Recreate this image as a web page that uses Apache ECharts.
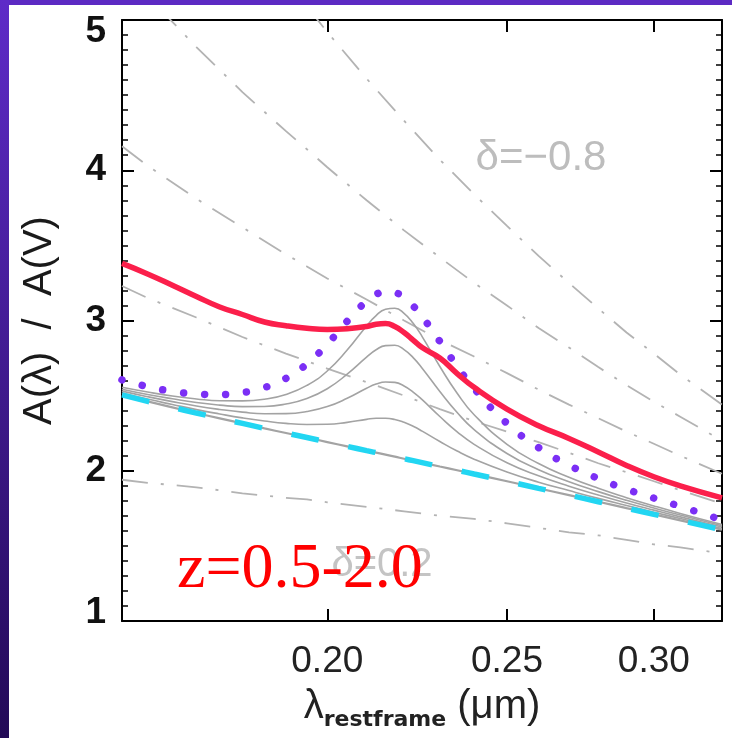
<!DOCTYPE html>
<html>
<head>
<meta charset="utf-8">
<script src="https://cdn.jsdelivr.net/npm/echarts@6/dist/echarts.min.js"></script>
<style>
html,body{margin:0;padding:0;background:#fff;}
#c{width:732px;height:738px;}
</style>
</head>
<body>
<div id="c"></div>
<script>
// wavelength grid (micron) for the curves
const lam = [0.155,0.16,0.165,0.17,0.175,0.18,0.185,0.19,0.195,0.2,0.205,0.21,0.2125,0.215,0.2175,0.22,0.2225,0.225,0.23,0.235,0.24,0.25,0.26,0.27,0.28,0.29,0.30,0.31,0.3265];
// delta = 0 base law (gray, overlaid by cyan dashes)
const base = [2.505,2.462,2.422,2.384,2.349,2.315,2.282,2.251,2.221,2.191,2.162,2.134,2.121,2.107,2.094,2.080,2.067,2.054,2.028,2.003,1.978,1.930,1.883,1.838,1.794,1.751,1.710,1.670,1.607];
// gray bump curves
const bump1 = [2.518,2.477,2.441,2.407,2.378,2.352,2.331,2.315,2.308,2.309,2.322,2.342,2.349,2.349,2.341,2.322,2.296,2.264,2.195,2.131,2.077,1.992,1.924,1.868,1.816,1.769,1.724,1.682,1.616];
const bump2 = [2.530,2.493,2.460,2.431,2.408,2.390,2.379,2.380,2.394,2.427,2.482,2.549,2.577,2.591,2.588,2.564,2.524,2.473,2.361,2.259,2.176,2.053,1.966,1.897,1.839,1.786,1.738,1.693,1.625];
const bump3 = [2.543,2.508,2.479,2.454,2.437,2.427,2.428,2.444,2.481,2.546,2.643,2.756,2.805,2.833,2.835,2.806,2.753,2.683,2.528,2.388,2.274,2.115,2.007,1.927,1.861,1.803,1.752,1.705,1.634];
const bump4 = [2.556,2.524,2.497,2.478,2.466,2.465,2.476,2.508,2.568,2.664,2.803,2.964,3.033,3.075,3.082,3.048,2.982,2.893,2.694,2.516,2.373,2.176,2.048,1.957,1.883,1.821,1.766,1.716,1.642];
// purple dotted curve
const mw = [2.605,2.560,2.529,2.511,2.507,2.520,2.554,2.615,2.711,2.843,2.995,3.130,3.174,3.193,3.186,3.152,3.097,3.026,2.861,2.695,2.547,2.315,2.154,2.037,1.948,1.877,1.818,1.763,1.672];
// red curve z=0.5-2.0
const red = [3.38,3.31,3.235,3.16,3.09,3.04,2.99,2.965,2.948,2.94,2.945,2.96,2.975,2.98,2.96,2.92,2.87,2.82,2.75,2.647,2.555,2.41,2.30,2.215,2.125,2.035,1.96,1.90,1.82];
// dash-dot lines with different slopes delta
const lamD = [0.155,0.16,0.17,0.18,0.19,0.195,0.2,0.21,0.22,0.23,0.24,0.25,0.26,0.27,0.28,0.29,0.30,0.31,0.3265];
const dm08 = [6.90,6.61,6.10,5.66,5.27,5.09,4.92,4.61,4.33,4.07,3.84,3.63,3.43,3.25,3.08,2.92,2.78,2.64,2.44];
const dm06 = [5.36,5.16,4.82,4.52,4.26,4.14,4.02,3.80,3.60,3.42,3.25,3.10,2.95,2.82,2.69,2.57,2.46,2.36,2.20];
const dm04 = [4.16,4.03,3.81,3.62,3.44,3.36,3.28,3.14,3.00,2.87,2.76,2.65,2.54,2.44,2.35,2.26,2.18,2.10,1.98];
const dm02 = [3.23,3.15,3.02,2.89,2.78,2.73,2.68,2.59,2.50,2.41,2.33,2.26,2.19,2.12,2.05,1.99,1.93,1.87,1.78];
const dp02 = [1.94,1.92,1.89,1.85,1.82,1.81,1.79,1.76,1.73,1.70,1.68,1.65,1.62,1.59,1.57,1.54,1.51,1.49,1.45];
// axis ticks
const xTicks = [0.20, 0.25, 0.30];
const xMin = 0.155, xMax = 0.3265;
const yMin = 1, yMax = 5;

function pairs(xs, ys){ return xs.map((x,i)=>[x, ys[i]]); }

const chart = echarts.init(document.getElementById('c'), null, {renderer:'canvas'});

const dashDot = {color:'#b3b3b3', width:1.8, type:[26,13,3,13]};
const grayLine = {color:'#a3a3a3', width:1.6};

function line(name, xs, ys, lineStyle, z, smooth){
  return {name, type:'line', data:pairs(xs,ys), showSymbol:false, symbol:'none',
    smooth: smooth===undefined ? true : smooth, lineStyle, z, silent:true, animation:false,
    xAxisIndex:0, yAxisIndex:0};
}

const tickLen = 12;
const option = {
  backgroundColor:'#ffffff',
  animation:false,
  grid:{left:122, top:20, width:600, height:601, show:false},
  xAxis:[{
    type:'log', logBase:10, min:xMin, max:xMax, position:'bottom',
    axisLine:{show:true, lineStyle:{color:'#000', width:2}},
    axisTick:{show:true, inside:true, length:tickLen, customValues:xTicks, lineStyle:{color:'#000', width:2}},
    minorTick:{show:false},
    splitLine:{show:false},
    axisLabel:{show:true, customValues:xTicks, formatter:(v)=>Number(v).toFixed(2), margin:22,
      fontFamily:'Liberation Sans', fontSize:37, color:'#222'},
    name:'{a|λ}{b|restframe}{a| (μm)}', nameLocation:'middle', nameGap:62,
    nameTextStyle:{rich:{
      a:{fontFamily:'Liberation Sans', fontSize:40, color:'#222'},
      b:{fontFamily:'DejaVu Sans', fontSize:22, fontWeight:'bold', color:'#222', padding:[26,0,0,0]}
    }}
  },{
    type:'log', logBase:10, min:xMin, max:xMax, position:'top',
    axisLine:{show:true, lineStyle:{color:'#000', width:2}},
    axisTick:{show:true, inside:true, length:tickLen, customValues:xTicks, lineStyle:{color:'#000', width:2}},
    axisLabel:{show:false}, splitLine:{show:false}
  }],
  yAxis:[{
    type:'value', min:yMin, max:yMax, interval:1, position:'left',
    axisLine:{show:true, lineStyle:{color:'#000', width:2}},
    axisTick:{show:true, inside:true, length:tickLen, lineStyle:{color:'#000', width:2}},
    minorTick:{show:true, splitNumber:10, length:6, lineStyle:{color:'#000', width:1.5}},
    splitLine:{show:false}, minorSplitLine:{show:false},
    axisLabel:{show:true, margin:16,
      formatter:(v)=> v===yMax ? '{hi|'+v+'}' : (v===yMin ? '{lo|'+v+'}' : '{n|'+v+'}'),
      rich:{
        n:{fontFamily:'Liberation Sans', fontSize:37, fontWeight:'bold', color:'#111'},
        hi:{fontFamily:'Liberation Sans', fontSize:37, fontWeight:'bold', color:'#111', padding:[24,0,0,0]},
        lo:{fontFamily:'Liberation Sans', fontSize:37, fontWeight:'bold', color:'#111', padding:[0,0,16,0]}
      }},
    name:'A(λ)  /  A(V)', nameLocation:'middle', nameGap:62, nameRotate:90,
    nameTextStyle:{fontFamily:'Liberation Sans', fontSize:40, color:'#1a1a1a'}
  },{
    type:'value', min:yMin, max:yMax, interval:1, position:'right',
    axisLine:{show:true, lineStyle:{color:'#000', width:2}},
    axisTick:{show:true, inside:true, length:tickLen, lineStyle:{color:'#000', width:2}},
    minorTick:{show:true, splitNumber:10, length:6, lineStyle:{color:'#000', width:1.5}},
    splitLine:{show:false}, axisLabel:{show:false}
  }],
  graphic:[
    {type:'rect', shape:{x:0,y:0,width:732,height:5}, style:{fill:'#5c2ac3'}, z:100},
    {type:'rect', shape:{x:0,y:0,width:9,height:738}, style:{fill:new echarts.graphic.LinearGradient(0,0,0,1,[{offset:0,color:'#5e2bc8'},{offset:1,color:'#230a57'}])}, z:100},
    {type:'text', x:541, y:158, style:{text:'δ=−0.8', fontFamily:'Liberation Sans', fontSize:42, fill:'#bdbdbd', align:'center', verticalAlign:'middle'}, z:10},
    {type:'text', x:382, y:565, style:{text:'δ=0.2', fontFamily:'Liberation Sans', fontSize:40, fill:'#c4c4c4', align:'center', verticalAlign:'middle'}, z:10},
    {type:'text', x:177, y:570, style:{text:'z=0.5-2.0', fontFamily:'Liberation Serif', fontSize:64, fill:'#ff0000', align:'left', verticalAlign:'middle'}, z:11}
  ],
  series:[
    line('d-0.8', lamD, dm08, dashDot, 1, false),
    line('d-0.6', lamD, dm06, dashDot, 1, false),
    line('d-0.4', lamD, dm04, dashDot, 1, false),
    line('d-0.2', lamD, dm02, dashDot, 1, false),
    line('d+0.2', lamD, dp02, dashDot, 1, false),
    line('b1', lam, bump1, grayLine, 2),
    line('b2', lam, bump2, grayLine, 2),
    line('b3', lam, bump3, grayLine, 2),
    line('b4', lam, bump4, grayLine, 2),
    line('base', lam, base, {color:'#a3a3a3', width:2.2}, 2),
    line('cyan', lam, base, {color:'#22d6f2', width:5.5, type:[28,30]}, 3),
    line('mw', lam, mw, {color:'#7b2ff5', width:7.5, type:[0.01,21], cap:'round'}, 4),
    line('red', lam, red, {color:'#fb1f4b', width:5.5}, 5)
  ]
};
chart.setOption(option);
</script>
</body>
</html>
